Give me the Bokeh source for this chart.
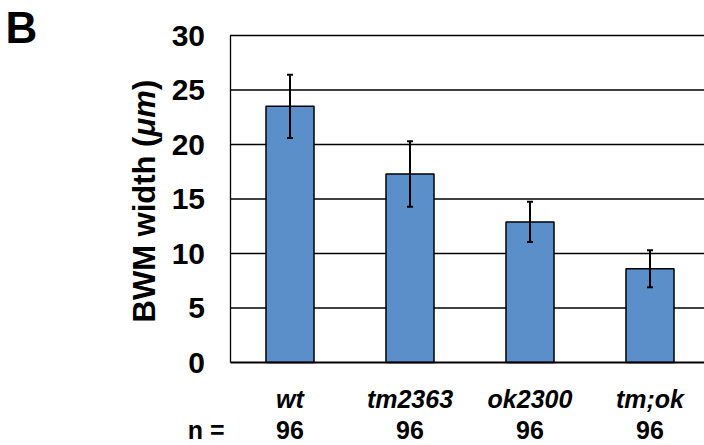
import math
from bokeh.plotting import figure
from bokeh.models import (ColumnDataSource, Range1d, Label, Whisker, TeeHead,
                          FixedTicker)
from bokeh.embed import file_html
from bokeh.resources import INLINE

# ---- data ----
categories = ["wt", "tm2363", "ok2300", "tm;ok"]
widths = [23.5, 17.3, 12.9, 8.6]
errors = [2.9, 3.0, 1.85, 1.7]
n_values = ["96", "96", "96", "96"]
y_ticks = [0, 5, 10, 15, 20, 25, 30]

FONT = "Liberation Sans"
BAR = "#5b8fc9"

W, H = 704, 445


def px_x(page_x):
    return (page_x - 289.5) / 120.0


def px_y(page_y):
    return (362.0 - page_y) / 10.9


xs = list(range(len(categories)))
src = ColumnDataSource(dict(
    x=xs, top=widths,
    upper=[w + e for w, e in zip(widths, errors)],
    lower=[w - e for w, e in zip(widths, errors)],
))

x_left = -0.5
x_right = px_x(W)

p = figure(width=W, height=H, output_backend="svg", toolbar_location=None,
           x_range=Range1d(px_x(0), px_x(W)), y_range=Range1d(px_y(H), px_y(0)),
           min_border=0)
p.outline_line_color = None
p.background_fill_color = "white"
p.xgrid.visible = False
p.ygrid.visible = False

# horizontal grid lines across the plotting area
grid_src = ColumnDataSource(dict(y=y_ticks[1:],
                                 x0=[x_left] * (len(y_ticks) - 1),
                                 x1=[x_right] * (len(y_ticks) - 1)))
p.segment(x0="x0", x1="x1", y0="y", y1="y", source=grid_src,
          line_color="black", line_width=1.3)

p.vbar(x="x", top="top", width=0.4, source=src, fill_color=BAR,
       line_color="black", line_width=1.5)

wh = Whisker(base="x", upper="upper", lower="lower", source=src,
             dimension="height", line_color="black", line_width=2,
             level="overlay",
             upper_head=TeeHead(size=6, line_width=2, line_color="black"),
             lower_head=TeeHead(size=6, line_width=2, line_color="black"))
p.add_layout(wh)

# y axis
ya = p.yaxis[0]
ya.fixed_location = x_left
ya.bounds = (0, 30)
ya.ticker = FixedTicker(ticks=y_ticks)
ya.axis_line_color = "black"
ya.axis_line_width = 1.3
ya.major_tick_line_color = None
ya.minor_tick_line_color = None
ya.major_label_standoff = 19
ya.major_label_text_font = FONT
ya.major_label_text_font_style = "bold"
ya.major_label_text_font_size = "30px"
ya.major_label_text_color = "black"

# x axis
xa = p.xaxis[0]
xa.fixed_location = 0
xa.bounds = (x_left, x_right)
xa.ticker = FixedTicker(ticks=xs)
xa.major_label_overrides = {i: c for i, c in enumerate(categories)}
xa.axis_line_color = "black"
xa.axis_line_width = 2.2
xa.major_tick_line_color = None
xa.minor_tick_line_color = None
xa.major_label_standoff = 16
xa.major_label_text_font = FONT
xa.major_label_text_font_style = "bold italic"
xa.major_label_text_font_size = "25px"
xa.major_label_text_color = "black"

# n values
for i, n in enumerate(n_values):
    p.add_layout(Label(x=i, y=px_y(429.5), text=n, text_align="center",
                       text_baseline="alphabetic", text_font=FONT,
                       text_font_style="bold", text_font_size="25px",
                       text_color="black"))

p.add_layout(Label(x=px_x(224), y=px_y(429.5), text="n =", text_align="right",
                   text_baseline="alphabetic", text_font=FONT,
                   text_font_style="bold", text_font_size="25px",
                   text_color="black"))

# y axis title in three pieces (mu m in italic)
fs = 31
w1 = 5.999 * fs
w2 = 1.5 * fs
base_x = px_x(144)
start_y = 322.0
pieces = [("BWM width (", "bold", start_y),
          ("\u03bcm", "bold italic", start_y - w1),
          (")", "bold", start_y - w1 - w2)]
for txt, style, py in pieces:
    p.add_layout(Label(x=base_x, y=px_y(py), text=txt, angle=math.pi / 2,
                       text_align="left", text_baseline="alphabetic",
                       text_font=FONT, text_font_style=style,
                       text_font_size=f"{fs}px", text_color="black"))

# panel letter
p.add_layout(Label(x=px_x(5), y=px_y(27), text="B", text_align="left",
                   text_baseline="alphabetic", text_font=FONT,
                   text_font_style="bold", text_font_size="44px",
                   text_color="black"))

open("out.html", "w").write(file_html(p, INLINE))
